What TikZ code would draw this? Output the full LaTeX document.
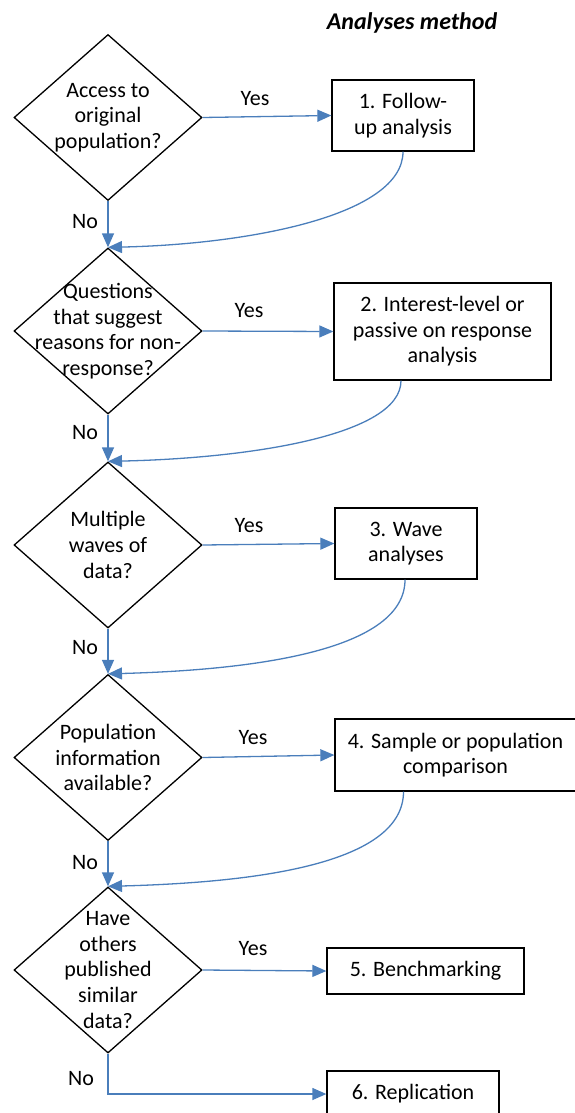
\documentclass[tikz,border=0pt]{standalone}
\usepackage{fontspec}
\setmainfont{Carlito}
\usetikzlibrary{shapes.geometric,arrows.meta}
\definecolor{arrowblue}{RGB}{74,126,187}
\begin{document}
\begin{tikzpicture}[x=1pt,y=-1pt,
  txt/.style={font=\fontsize{22}{25.6}\selectfont,align=center,inner sep=0pt},
  dia/.style={diamond,draw=black,line width=1.3pt,minimum width=188pt,minimum height=166pt,inner sep=0pt},
  stepbox/.style={draw=black,line width=1.3pt,txt,inner sep=0pt},
  arr/.style={draw=arrowblue,line width=1.3pt,-{Triangle[length=14pt,width=12pt]}},
  lbl/.style={txt}
]
\useasboundingbox (0,0) rectangle (574,1113);
\node[txt,font=\fontsize{24}{28}\selectfont\bfseries\itshape] (title) at (412,23) {Analyses method};

% diamonds
\node[dia] (d1) at (108,117.5) {};
\node[txt] (t1) at (d1) {Access to\\original\\population?};
\node[dia] (d2) at (108,331) {};
\node[txt] (t2) at (d2) {Questions\\that suggest\\reasons for non-\\response?};
\node[dia] (d3) at (108,545) {};
\node[txt] (t3) at (d3) {Multiple\\waves of\\data?};
\node[dia] (d4) at (108,757.5) {};
\node[txt] (t4) at (d4) {Population\\information\\available?};
\node[dia] (d5) at (108,970) {};
\node[txt] (t5) at (d5) {Have\\others\\published\\similar\\data?};

% boxes
\node[stepbox,minimum width=142pt,minimum height=71pt] (b1) at (403,115.5) {1. Follow-\\up analysis};
\node[stepbox,minimum width=217pt,minimum height=97pt] (b2) at (442.5,331.5) {2. Interest-level or\\passive on response\\analysis};
\node[stepbox,minimum width=142pt,minimum height=71pt] (b3) at (406,543.5) {3. Wave\\analyses};
\node[stepbox,minimum width=241pt,minimum height=72pt] (b4) at (455.5,755) {4. Sample or population\\comparison};
\node[stepbox,minimum width=197pt,minimum height=46pt] (b5) at (425.5,971) {5. Benchmarking};
\node[stepbox,minimum width=172pt,minimum height=46pt] (b6) at (413,1094) {6. Replication};

% yes arrows
\draw[arr] (d1.east) -- (b1.west);
\draw[arr] (d2.east) -- (b2.west);
\draw[arr] (d3.east) -- (b3.west);
\draw[arr] (d4.east) -- (b4.west);
\draw[arr] (d5.east) -- (b5.west);

% no arrows
\draw[arr] (d1.south) -- (d2.north);
\draw[arr] (d2.south) -- (d3.north);
\draw[arr] (d3.south) -- (d4.north);
\draw[arr] (d4.south) -- (d5.north);
\draw[arr] (d5.south) |- (b6.west);

% return curves
\draw[arr] (b1.south) .. controls +(0,64) and +(140,-3) .. (d2.north);
\draw[arr] ([xshift=-41.5pt]b2.south) .. controls +(0,55) and +(140,-3) .. (d3.north);
\draw[arr] ([xshift=-1pt]b3.south) .. controls +(0,70) and +(150,-4) .. (d4.north);
\draw[arr] ([xshift=-52pt]b4.south) .. controls +(0,72) and +(150,-4) .. (d5.north);

% labels
\node[lbl] (y1) at (255,99) {Yes};
\node[lbl] (y2) at (249,311) {Yes};
\node[lbl] (y3) at (249,526) {Yes};
\node[lbl] (y4) at (253,738) {Yes};
\node[lbl] (y5) at (253,949) {Yes};
\node[lbl] (n1) at (85,222) {No};
\node[lbl] (n2) at (85,433) {No};
\node[lbl] (n3) at (85,648) {No};
\node[lbl] (n4) at (85,863) {No};
\node[lbl] (n5) at (81,1079) {No};
\end{tikzpicture}
\end{document}
